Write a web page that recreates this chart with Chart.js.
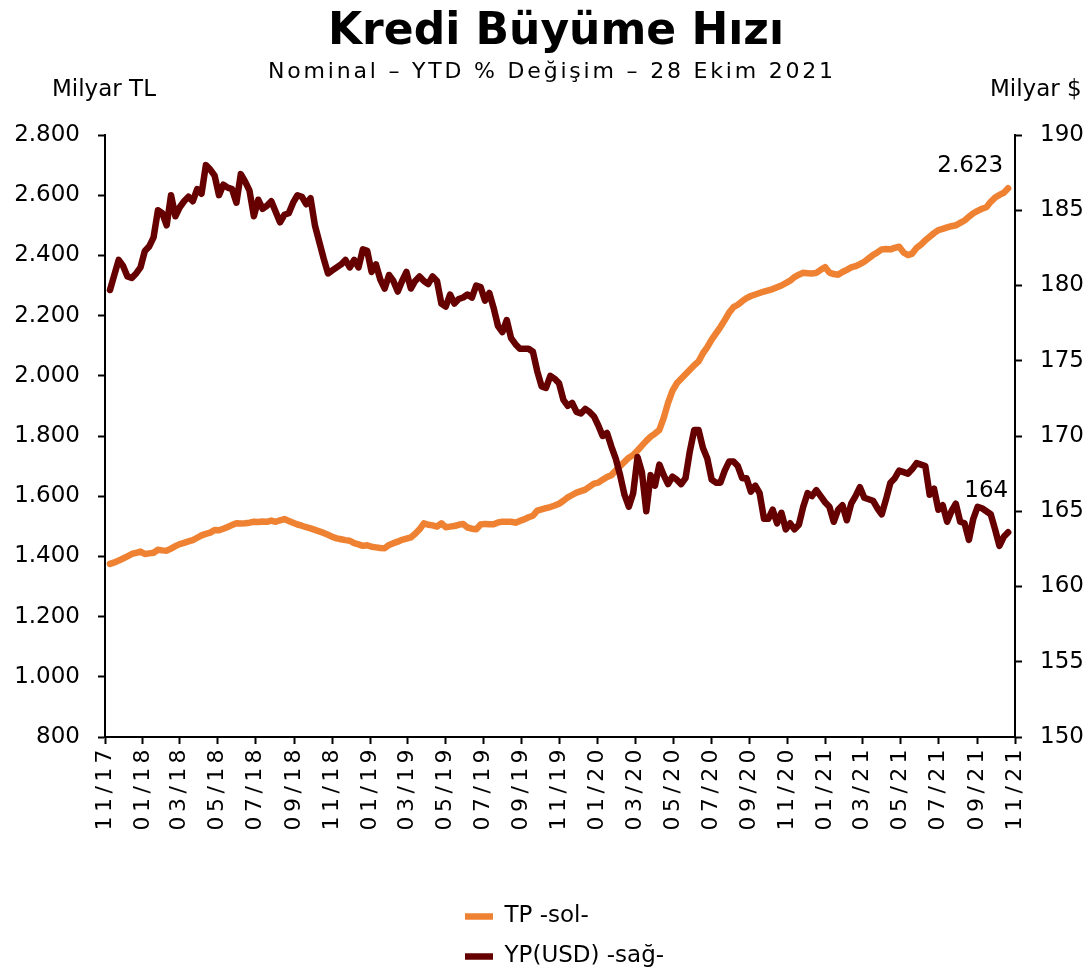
<!DOCTYPE html>
<html>
<head>
<meta charset="utf-8">
<title>Kredi Büyüme Hızı</title>
<script src="https://cdn.jsdelivr.net/npm/chart.js@4.4.1/dist/chart.umd.min.js"></script>
<style>
  body { margin: 0; background: #fff; }
  canvas { display: block; }
</style>
</head>
<body>
<canvas id="chart" width="1089" height="976"></canvas>
<script>
"use strict";

// Texts
const titleText = "Kredi Büyüme Hızı";
const subtitleText = "Nominal – YTD % Değişim – 28 Ekim 2021";
const leftUnit = "Milyar TL";
const rightUnit = "Milyar $";

// x axis: tick labels every 2 months
const tickLabels = ["11/17", "01/18", "03/18", "05/18", "07/18", "09/18", "11/18",
  "01/19", "03/19", "05/19", "07/19", "09/19", "11/19",
  "01/20", "03/20", "05/20", "07/20", "09/20", "11/20",
  "01/21", "03/21", "05/21", "07/21", "09/21", "11/21"];

// weekly data, first week
const firstWeek = "2017-11-09";

// TP (milyar TL) - left axis
const tpValues = [
  1375, 1380, 1386, 1393, 1400, 1408, 1412, 1416, 1408, 1410,
  1412, 1422, 1420, 1419, 1426, 1434, 1441, 1445, 1450, 1454,
  1462, 1470, 1475, 1479, 1488, 1487, 1492, 1498, 1504, 1510,
  1509, 1510, 1512, 1515, 1514, 1516, 1515, 1519, 1515, 1520,
  1524, 1518, 1512, 1506, 1502, 1497, 1493, 1488, 1483, 1478,
  1472, 1465, 1460, 1457, 1454, 1452, 1444, 1440, 1435, 1437,
  1432, 1430, 1428, 1427, 1438, 1444, 1449, 1455, 1459, 1463,
  1475, 1490, 1510, 1505, 1503, 1499, 1510, 1497, 1499, 1501,
  1505, 1508, 1496, 1492, 1490, 1506, 1508, 1507, 1507, 1513,
  1515, 1515, 1515, 1512, 1518, 1523, 1530, 1535, 1552, 1556,
  1560, 1564, 1569, 1575, 1585, 1596, 1604, 1612, 1617, 1622,
  1632, 1642, 1645, 1655, 1664, 1670, 1685, 1700, 1714, 1728,
  1737, 1752, 1768, 1784, 1798, 1808, 1820, 1860, 1910, 1950,
  1975, 1990, 2005, 2020, 2035, 2048, 2075, 2095, 2120, 2141,
  2162, 2185, 2210, 2228, 2236, 2248, 2258, 2265, 2270, 2275,
  2280, 2284, 2288, 2294, 2300, 2308, 2316, 2328, 2336, 2342,
  2341, 2340, 2342, 2352, 2361, 2343, 2338, 2336, 2345, 2352,
  2360, 2364, 2371, 2379, 2390, 2401, 2410, 2420, 2421, 2420,
  2425, 2429, 2410, 2401, 2406, 2425, 2436, 2450, 2462, 2474,
  2484, 2488, 2493, 2497, 2500, 2508, 2516, 2528, 2540, 2548,
  2555, 2560, 2578, 2592, 2601, 2608, 2623
];

// YP (milyar USD) - right axis
const ypValues = [
  179.7, 180.7, 181.7, 181.3, 180.6, 180.5, 180.8, 181.2, 182.3, 182.6,
  183.2, 185.0, 184.8, 184.0, 186.0, 184.6, 185.2, 185.6, 185.9, 185.6,
  186.4, 186.1, 188.0, 187.7, 187.3, 186.0, 186.7, 186.5, 186.4, 185.5,
  187.4, 186.9, 186.3, 184.6, 185.7, 185.1, 185.3, 185.6, 184.9, 184.2,
  184.7, 184.8, 185.5, 186.0, 185.9, 185.4, 185.8, 184.0, 182.9, 181.8,
  180.8, 181.0, 181.2, 181.4, 181.7, 181.2, 181.7, 181.2, 182.4, 182.3,
  180.9, 181.4, 180.4, 179.8, 180.7, 180.3, 179.6, 180.3, 180.9, 179.8,
  180.3, 180.6, 180.3, 180.1, 180.6, 180.3, 178.8, 178.6, 179.4, 178.8,
  179.1, 179.2, 179.4, 179.2, 180.0, 179.9, 179.0, 179.5, 178.5, 177.3,
  176.9, 177.7, 176.5, 176.1, 175.8, 175.8, 175.8, 175.6, 174.3, 173.3,
  173.2, 174.0, 173.8, 173.5, 172.4, 172.0, 172.2, 171.6, 171.5, 171.8,
  171.6, 171.3, 170.7, 170.0, 170.2, 169.3, 168.5, 167.4, 166.1, 165.3,
  166.2, 168.6, 167.6, 165.0, 167.4, 166.7, 168.1, 167.4, 166.8, 167.3,
  167.1, 166.8, 167.2, 169.0, 170.4, 170.4, 169.2, 168.5, 167.1, 166.9,
  166.9, 167.7, 168.3, 168.3, 168.0, 167.2, 167.2, 166.3, 166.7, 166.2,
  164.5, 164.5, 165.1, 164.2, 164.9, 163.8, 164.2, 163.8, 164.1, 165.3,
  166.2, 166.0, 166.4, 166.0, 165.6, 165.3, 164.3, 165.1, 165.4, 164.4,
  165.5, 166.0, 166.6, 165.9, 165.8, 165.7, 165.2, 164.8, 165.8, 166.9,
  167.2, 167.7, 167.6, 167.5, 167.8, 168.2, 168.1, 168.0, 166.1, 166.5,
  165.1, 165.4, 164.3, 165.0, 165.5, 164.3, 164.2, 163.1, 164.5, 165.3,
  165.2, 165.0, 164.8, 163.8, 162.7, 163.3, 163.6
];

const tpColor = "#ef8232";
const ypColor = "#660000";
const fontFamily = "'DejaVu Sans', Verdana, sans-serif";

// days since start of x axis (1 Nov 2017)
const DAY = 86400000;
const axisStart = Date.UTC(2017, 10, 1);
function toDay(ms) {
  return Math.round((ms - axisStart) / DAY);
}
const tickDays = tickLabels.map((t) => {
  const [mm, yy] = t.split("/").map(Number);
  return toDay(Date.UTC(2000 + yy, mm - 1, 1));
});
const [fy, fm, fd] = firstWeek.split("-").map(Number);
const weekDays = tpValues.map((v, i) => toDay(Date.UTC(fy, fm - 1, fd)) + 7 * i);

function fmt(v) {
  return String(v).replace(/\B(?=(\d{3})+(?!\d))/g, ".");
}

// titles, unit labels, last values, x label spacing
const textPlugin = {
  id: "texts",
  afterLayout(chart) {
    // legend sits under the x axis labels, two rows
    const lg = chart.legend;
    lg.left = 448;
    lg.right = 800;
    lg.top = 888;
    lg.bottom = 2000;
  },
  afterDatasetsDraw(chart) {
    chart.ctx.letterSpacing = "4.4px";
  },
  afterDraw(chart) {
    const ctx = chart.ctx;
    ctx.letterSpacing = "0px";
    ctx.save();
    ctx.fillStyle = "#000";
    ctx.textBaseline = "alphabetic";

    ctx.textAlign = "center";
    ctx.font = "bold 44px " + fontFamily;
    ctx.fillText(titleText, 556, 44);

    ctx.font = "22px " + fontFamily;
    ctx.letterSpacing = "2.8px";
    ctx.fillText(subtitleText, 552, 78);
    ctx.letterSpacing = "0px";

    ctx.font = "23px " + fontFamily;
    ctx.textAlign = "left";
    ctx.fillText(leftUnit, 52, 96);
    ctx.fillText(rightUnit, 990, 96);

    const x = chart.scales.x;
    const n = tpValues.length - 1;
    const px = x.getPixelForValue(weekDays[n]);
    ctx.textAlign = "right";
    ctx.fillText(fmt(tpValues[n]), px - 5, chart.scales.yL.getPixelForValue(tpValues[n]) - 16);
    ctx.fillText(String(Math.round(ypValues[n])), px, chart.scales.yR.getPixelForValue(ypValues[n]) - 35);
    ctx.restore();
  },
};

Chart.defaults.font.family = fontFamily;
Chart.defaults.font.size = 23;
Chart.defaults.color = "#000";

const axisGrid = {
  drawOnChartArea: false,
  drawTicks: true,
  tickLength: 7,
  tickWidth: 2,
  tickColor: "#000",
  color: "#000",
};
const axisBorder = { color: "#000", width: 2 };

const ctx = document.getElementById("chart").getContext("2d");
const chart = new Chart(ctx, {
  type: "line",
  data: {
    datasets: [
      {
        label: "TP -sol-",
        data: tpValues.map((v, i) => ({ x: weekDays[i], y: v })),
        yAxisID: "yL",
        borderColor: tpColor,
        backgroundColor: tpColor,
        borderWidth: 6.5,
        borderCapStyle: "round",
        borderJoinStyle: "round",
        pointRadius: 0,
        tension: 0,
        order: 2,
      },
      {
        label: "YP(USD) -sağ-",
        data: ypValues.map((v, i) => ({ x: weekDays[i], y: v })),
        yAxisID: "yR",
        borderColor: ypColor,
        backgroundColor: ypColor,
        borderWidth: 6.5,
        borderCapStyle: "round",
        borderJoinStyle: "round",
        pointRadius: 0,
        tension: 0,
        order: 1,
      },
    ],
  },
  options: {
    responsive: false,
    animation: false,
    devicePixelRatio: 1,
    layout: { padding: { top: 135, left: 0, right: 0, bottom: 0 } },
    plugins: {
      title: { display: false },
      tooltip: { enabled: false },
      legend: {
        position: "chartArea",
        align: "start",
        labels: {
          usePointStyle: true,
          pointStyle: "line",
          pointStyleWidth: 28,
          padding: 17,
          color: "#000",
          font: { size: 23 },
          sort: (a, b) => a.datasetIndex - b.datasetIndex,
        },
      },
    },
    scales: {
      x: {
        type: "linear",
        min: 0,
        max: tickDays[tickDays.length - 1],
        afterBuildTicks: (scale) => {
          scale.ticks = tickDays.map((v) => ({ value: v }));
        },
        afterFit: (scale) => {
          scale.height = 239;
        },
        grid: axisGrid,
        border: axisBorder,
        ticks: {
          autoSkip: false,
          maxRotation: 90,
          minRotation: 90,
          padding: 1,
          z: 1,
          font: { size: 22 },
          callback: (value) => tickLabels[tickDays.indexOf(value)],
        },
      },
      yL: {
        type: "linear",
        position: "left",
        min: 800,
        max: 2800,
        afterFit: (scale) => {
          scale.width = 105;
        },
        grid: axisGrid,
        border: axisBorder,
        ticks: {
          stepSize: 200,
          padding: 18,
          callback: (value) => fmt(value),
        },
      },
      yR: {
        type: "linear",
        position: "right",
        min: 150,
        max: 190,
        afterFit: (scale) => {
          scale.width = 74;
        },
        grid: axisGrid,
        border: axisBorder,
        ticks: {
          stepSize: 5,
          padding: 18,
        },
      },
    },
  },
  plugins: [textPlugin],
});
</script>
</body>
</html>
